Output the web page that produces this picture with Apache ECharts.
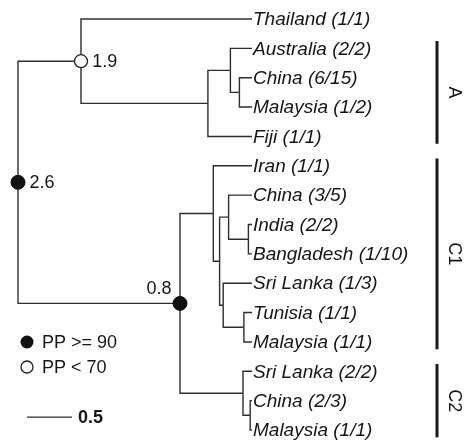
<!DOCTYPE html>
<html>
<head>
<meta charset="utf-8">
<style>
  html, body { margin: 0; padding: 0; background: #ffffff; }
  #chart { width: 466px; height: 440px; }
</style>
<script src="https://cdn.jsdelivr.net/npm/echarts@6/dist/echarts.min.js"></script>
</head>
<body>
<div id="chart"></div>
<script>
// Tip labels, top to bottom (row index = position in this list)
const leafNames = [
  'Thailand (1/1)', 'Australia (2/2)', 'China (6/15)', 'Malaysia (1/2)', 'Fiji (1/1)',
  'Iran (1/1)', 'China (3/5)', 'India (2/2)', 'Bangladesh (1/10)', 'Sri Lanka (1/3)',
  'Tunisia (1/1)', 'Malaysia (1/1)', 'Sri Lanka (2/2)', 'China (2/3)', 'Malaysia (1/1)'
];
// Parent node of each tip
const leafParents = [
  'nA', 'ausChMy', 'chMy', 'chMy', 'cladeA',
  'c1', 'chInBd', 'inBd', 'inBd', 'slTnMy',
  'tnMy', 'tnMy', 'c2', 'chMy2', 'chMy2'
];

// Internal nodes: id, parent id and node height (tips are at height 0)
const nodeIds     = ['root', 'nA',  'cladeA', 'ausChMy', 'chMy', 'nC',  'c1',  'c1a', 'chInBd', 'inBd', 'slTnMy', 'tnMy', 'c2',  'chMy2'];
const nodeParents = [null,   'root', 'nA',    'cladeA',  'ausChMy', 'root', 'nC', 'c1', 'c1a',    'chInBd', 'c1a',  'slTnMy', 'nC', 'c2'];
const nodeHeights = [2.6,    1.9,   0.49,     0.24,      0.14,   0.8,   0.43,  0.36,  0.26,     0.04,   0.32,     0.09,   0.10,  0.02];

// Labelled nodes with their posterior-probability class
const supportNodes  = ['root', 'nA', 'nC'];
const supportLabels = ['2.6', '1.9', '0.8'];
const supportHigh   = [true, false, true];   // true: PP >= 90, false: PP < 70

// Clade bars on the right: name and first/last tip row
const cladeNames = ['A', 'C1', 'C2'];
const cladeFirst = [1, 5, 12];
const cladeLast  = [4, 11, 14];

// Scale bar
const scaleBarLength = 0.5;
const scaleBarLabel = '0.5';

// ---- tree layout (row of each internal node = midpoint of its children) ----
const children = {};
nodeIds.forEach(id => { children[id] = []; });
nodeParents.forEach((p, i) => { if (p) children[p].push({ type: 'node', id: nodeIds[i] }); });
leafParents.forEach((p, i) => { children[p].push({ type: 'leaf', idx: i }); });

const heightOf = {};
nodeIds.forEach((id, i) => { heightOf[id] = nodeHeights[i]; });
const rowOf = {};
function nodeRow(id) {
  if (rowOf[id] !== undefined) return rowOf[id];
  const rows = children[id].map(c => c.type === 'leaf' ? c.idx : nodeRow(c.id));
  rowOf[id] = (Math.min.apply(null, rows) + Math.max.apply(null, rows)) / 2;
  return rowOf[id];
}
nodeRow('root');

// Branches: [parentHeight, parentRow, childHeight, childRow]
const edges = [];
const edgeText = [];
nodeIds.forEach((id, i) => {
  const p = nodeParents[i];
  if (!p) return;
  edges.push([heightOf[p], rowOf[p], heightOf[id], rowOf[id]]);
  edgeText.push('');
});
leafNames.forEach((name, i) => {
  const p = leafParents[i];
  edges.push([heightOf[p], rowOf[p], 0, i]);
  edgeText.push(name);
});

const lineColor = '#2e2e2e';
const textColor = '#151515';
const fontFamily = '"Liberation Sans", Arial, Helvetica, sans-serif';

const highData = [], lowData = [];
supportNodes.forEach((id, i) => {
  const item = { value: [heightOf[id], rowOf[id]], label: supportLabels[i] };
  (supportHigh[i] ? highData : lowData).push(item);
});

function nodeLabel(item) {
  const left = item.label === '0.8';
  return {
    value: item.value,
    label: {
      show: true,
      formatter: item.label,
      position: left ? 'left' : 'right',
      distance: left ? 1 : 4,
      offset: left ? [0, -14] : [0, 1],
      fontSize: 18,
      fontFamily: fontFamily,
      color: textColor,
      opacity: 1
    }
  };
}

const chart = echarts.init(document.getElementById('chart'), null, { renderer: 'canvas' });

chart.setOption({
  backgroundColor: '#ffffff',
  animation: false,
  grid: { left: 18, right: 214, top: 19, bottom: 10 },
  xAxis: { type: 'value', min: 0, max: 2.6, inverse: true, show: false },
  yAxis: { type: 'value', min: 0, max: 14, inverse: true, show: false },
  series: [
    {
      type: 'custom',
      name: 'branches',
      clip: false,
      silent: true,
      data: edges,
      renderItem: function (params, api) {
        const p0 = api.coord([api.value(0), api.value(1)]);
        const p1 = api.coord([api.value(0), api.value(3)]);
        const p2 = api.coord([api.value(2), api.value(3)]);
        const els = [{
          type: 'polyline',
          shape: { points: [p0, p1, p2] },
          style: { stroke: lineColor, lineWidth: 1.4, fill: null }
        }];
        const t = edgeText[params.dataIndex];
        if (t) {
          els.push({
            type: 'text',
            x: p2[0] + 1,
            y: p2[1] + 1,
            style: {
              text: t,
              font: 'italic 19px ' + fontFamily,
              fill: textColor,
              verticalAlign: 'middle',
              align: 'left'
            }
          });
        }
        return { type: 'group', children: els };
      }
    },
    {
      type: 'custom',
      name: 'clades',
      clip: false,
      silent: true,
      data: cladeNames.map((n, i) => [cladeFirst[i], cladeLast[i]]),
      renderItem: function (params, api) {
        const top = api.coord([0, api.value(0) - 0.25])[1];
        const bottom = api.coord([0, api.value(1) + 0.25])[1];
        const mid = (top + bottom) / 2;
        return {
          type: 'group',
          children: [
            {
              type: 'line',
              shape: { x1: 437, y1: top, x2: 437, y2: bottom },
              style: { stroke: '#1a1a1a', lineWidth: 3 }
            },
            {
              type: 'text',
              x: 454, y: mid,
              rotation: -Math.PI / 2,
              style: {
                text: cladeNames[params.dataIndex],
                font: '18px ' + fontFamily,
                fill: textColor,
                align: 'center',
                verticalAlign: 'middle'
              }
            }
          ]
        };
      }
    },
    {
      type: 'custom',
      name: 'scale',
      clip: false,
      silent: true,
      data: [[2.5, 2.5 - scaleBarLength, 13.56]],
      renderItem: function (params, api) {
        const a = api.coord([api.value(0), api.value(2)]);
        const b = api.coord([api.value(1), api.value(2)]);
        return {
          type: 'group',
          children: [
            {
              type: 'line',
              shape: { x1: a[0], y1: a[1], x2: b[0], y2: b[1] },
              style: { stroke: lineColor, lineWidth: 1.4 }
            },
            {
              type: 'text',
              x: b[0] + 6, y: b[1] + 1,
              style: {
                text: scaleBarLabel,
                font: 'bold 18px ' + fontFamily,
                fill: textColor,
                verticalAlign: 'middle'
              }
            }
          ]
        };
      }
    },
    {
      type: 'scatter',
      name: 'PP >= 90',
      silent: true,
      symbol: 'circle',
      symbolSize: 14,
      itemStyle: { color: '#111111', borderColor: '#111111', borderWidth: 1, opacity: 1 },
      data: highData.map(nodeLabel),
      z: 5
    },
    {
      type: 'scatter',
      name: 'PP < 70',
      silent: true,
      symbol: 'circle',
      symbolSize: 13,
      itemStyle: { color: '#ffffff', borderColor: '#222222', borderWidth: 1.3, opacity: 1 },
      data: lowData.map(nodeLabel),
      z: 5
    }
  ],
  graphic: [
    { type: 'circle', shape: { cx: 27, cy: 342, r: 6.5 }, style: { fill: '#111111' } },
    { type: 'text', x: 42, y: 343, style: { text: 'PP >= 90', font: '18px ' + fontFamily, fill: textColor, verticalAlign: 'middle' } },
    { type: 'circle', shape: { cx: 27, cy: 367, r: 6 }, style: { fill: '#ffffff', stroke: '#222222', lineWidth: 1.3 } },
    { type: 'text', x: 42, y: 368, style: { text: 'PP < 70', font: '18px ' + fontFamily, fill: textColor, verticalAlign: 'middle' } }
  ]
});
</script>
</body>
</html>
